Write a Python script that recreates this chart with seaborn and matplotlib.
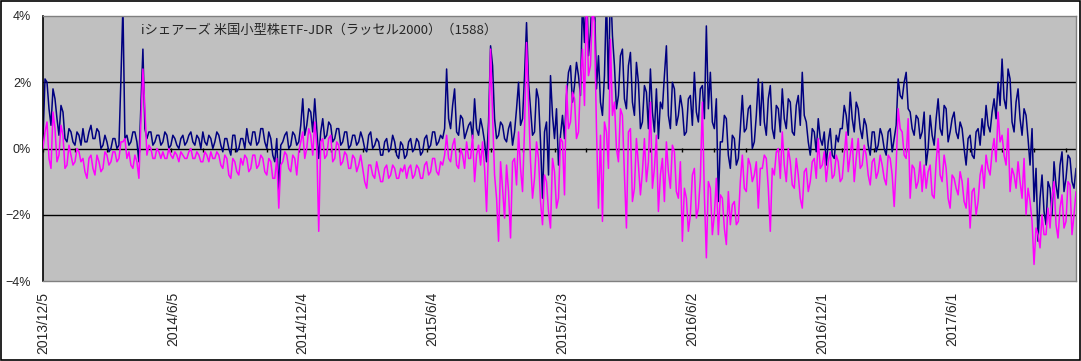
import numpy as np
import pandas as pd
import matplotlib
matplotlib.use("Agg")
import matplotlib.pyplot as plt
import matplotlib.patches as mpatches
import seaborn as sns

# premium / deviation (%)
# *_vals: trading days 0, 4, 8, ...   *_mid: trading days 2, 6, 10, ...
blue_vals = [
    0.3, 2.0, 0.7, 1.5, 0.4, 1.1, 0.2, 0.5, 0.1, 0.4,
    0.6, 0.2, 0.7, 0.3, 0.5, 0.1, 0.2, 0.0, 0.3, 0.1,
    4.3, 0.4, 0.2, 0.5, -0.4, 3.0, 0.3, 0.5, 0.2, 0.4,
    0.2, 0.4, 0.1, 0.3, 0.0, 0.4, 0.2, 0.5, 0.1, 0.3,
    0.5, 0.1, 0.3, 0.2, 0.4, -0.1, 0.3, -0.2, 0.4, 0.0,
    0.3, 0.6, 0.1, 0.5, 0.2, 0.6, 0.0, 0.3, -0.4, -1.3,
    0.2, 0.5, 0.1, 0.4, 0.2, 1.5, 0.7, 1.1, 1.5, -0.3,
    0.9, 0.4, 0.7, 0.3, 0.6, 0.2, 0.5, 0.1, 0.4, 0.2,
    0.3, -0.1, 0.5, 0.1, 0.2, -0.2, 0.3, 0.0, 0.2, -0.3,
    0.1, -0.2, 0.3, 0.0, 0.2, -0.1, 0.4, 0.1, 0.5, 0.2,
    0.3, 2.4, 0.6, 1.8, 0.4, 0.9, 0.5, 0.8, 1.5, 0.4,
    0.6, -0.4, 3.1, 0.9, 0.4, 0.7, 0.2, 0.8, 0.5, 2.0,
    0.9, 3.8, 1.2, 0.5, 1.5, -1.5, 0.8, 2.2, 0.3, -0.5,
    1.0, 1.6, 2.5, 1.9, 2.2, 4.5, 5.0, 3.5, 4.6, 2.8,
    1.0, 4.6, 5.0, 2.5, 1.6, 3.0, 1.2, 2.9, 1.0, 2.0,
    0.8, 1.7, 2.4, 0.5, 0.3, 1.2, 3.1, 0.6, 1.8, 1.0,
    1.2, 0.5, 1.6, 2.3, 0.8, 1.9, 3.7, 2.3, 0.6, -1.6,
    0.2, 0.9, -0.6, 0.3, -0.3, 1.6, 0.6, 1.3, 0.2, 2.1,
    2.0, 0.4, 1.9, 0.3, 1.2, 1.8, 0.6, 1.4, 0.4, 1.6,
    2.3, 0.8, -0.2, 0.5, 0.9, 0.1, -0.5, 0.6, -0.3, 0.2,
    0.6, 1.0, 1.7, 0.5, 1.2, 0.3, 0.7, -0.2, 0.5, 0.1,
    0.4, -0.2, 0.6, 0.3, 2.1, 1.5, 2.3, 1.1, 0.4, 0.9,
    0.5, -0.5, 1.0, 0.1, 1.5, 0.4, 1.2, 0.5, 1.1, 0.3,
    0.6, -0.5, 0.4, -0.3, 0.6, 0.9, 1.3, 0.5, 1.5, 2.0,
    2.7, 1.2, 2.1, 0.5, 1.8, 0.4, 1.0, -0.5, -1.6, -2.8,
    -0.8, -2.3, -1.2, -0.4, -1.5, -0.1, -0.9, -0.3, -1.2,
]
blue_mid = [
    2.1, 1.2, 1.8, 0.9, 1.3, 0.3, 0.6, 0.2, 0.5, 0.1,
    0.2, 0.5, 0.3, 0.6, 0.0, 0.4, -0.1, 0.3, 0.0, 2.1,
    0.3, 0.1, 0.5, 0.2, 1.3, 0.6, 0.5, 0.1, 0.4, 0.1,
    0.5, 0.0, 0.4, 0.1, 0.3, 0.1, 0.4, 0.2, 0.4, 0.0,
    0.2, 0.4, 0.0, 0.5, 0.1, 0.3, 0.0, 0.4, -0.1, 0.3,
    0.0, 0.2, 0.5, 0.1, 0.6, 0.2, 0.5, -0.2, 0.3, 0.1,
    0.4, 0.0, 0.5, 0.1, 0.7, 0.4, 1.2, 0.5, 0.6, 0.5,
    0.3, 0.8, 0.2, 0.6, 0.1, 0.5, 0.0, 0.4, 0.1, 0.5,
    0.0, 0.4, 0.0, 0.3, -0.2, 0.2, -0.1, 0.4, -0.2, 0.2,
    -0.3, 0.2, -0.1, 0.3, -0.2, 0.3, 0.0, 0.5, 0.1, 0.4,
    0.6, 0.9, 1.3, 0.5, 1.0, 0.3, 0.7, 0.3, 0.6, 0.9,
    0.2, 0.8, 2.5, 0.3, 0.8, 0.3, 0.6, 0.1, 1.2, 0.7,
    2.2, 2.0, 0.4, 1.8, 0.2, 0.5, -0.8, 1.0, 1.2, 0.4,
    0.3, 2.3, 1.4, 2.6, 1.6, 3.2, 2.8, 5.0, 1.8, 1.4,
    2.2, 1.8, 3.4, 1.2, 2.8, 1.5, 2.5, 1.4, 2.6, 0.6,
    1.9, 0.6, 1.1, 1.8, 1.4, 2.2, 1.0, 2.0, 0.7, 1.6,
    0.4, 1.5, 0.7, 1.1, 1.8, 0.9, 1.2, 0.8, 1.5, 0.2,
    1.0, -0.2, 0.4, -0.5, 0.6, 0.5, 1.2, 0.0, 1.0, 0.7,
    0.8, 1.5, 0.6, 1.3, 0.5, 0.9, 1.5, 0.5, 1.3, 0.7,
    1.0, 0.2, 0.6, -0.1, 0.3, 0.5, 0.2, -0.2, 0.4, 0.6,
    1.3, 0.4, 0.9, 1.4, 0.6, 0.9, 0.1, 0.5, -0.1, 0.6,
    0.0, 0.5, -0.1, 0.7, 1.6, 2.0, 1.2, 0.6, 1.0, 0.3,
    1.1, 0.0, 0.4, 0.9, 0.6, 1.3, 0.2, 0.9, 0.5, 0.8,
    0.0, 0.3, -0.2, 0.5, 0.1, 0.4, 0.7, 1.1, 0.9, 1.3,
    1.5, 2.4, 0.8, 1.4, 0.9, 1.2, 0.3, 0.6, -0.6, -1.5,
    -1.9, -1.0, -2.0, -1.1, -0.5, -1.3, -0.2, -1.0, -0.6,
]

magenta_vals = [
    0.0, 0.8, -0.6, 0.6, -0.2, 0.4, -0.5, -0.2, -0.4, -0.1,
    -0.3, -0.9, -0.2, -0.8, -0.4, -0.6, -0.2, -0.4, -0.1, -0.3,
    0.2, -0.3, -0.5, -0.2, -0.9, 2.4, -0.2, 0.0, -0.3, -0.1,
    -0.1, -0.3, -0.2, -0.1, -0.4, -0.2, -0.3, 0.0, -0.3, -0.2,
    -0.4, -0.2, -0.1, -0.3, -0.2, -0.6, -0.3, -0.9, -0.4, -0.8,
    -0.5, -0.3, -0.6, -0.2, -0.5, -0.3, -0.8, -0.4, -0.9, -1.8,
    -0.4, -0.2, -0.7, -0.3, -0.1, 0.5, 0.0, 0.4, 0.8, -2.5,
    0.3, -0.2, 0.4, -0.3, 0.1, -0.4, -0.2, -0.6, -0.3, -0.5,
    -0.6, -1.2, -0.5, -0.9, -0.7, -1.0, -0.5, -0.8, -0.6, -0.9,
    -0.7, -0.9, -0.5, -0.8, -0.6, -0.9, -0.4, -0.7, -0.3, -0.8,
    -0.5, 0.4, -0.4, 0.3, -0.6, -0.2, 0.2, -0.3, -1.0, 0.1,
    0.2, -1.9, 3.0, -0.8, -2.8, -1.2, -0.5, -2.7, -0.3, 0.5,
    -1.3, 3.2, -0.4, -0.9, -0.3, -2.3, -1.0, -2.4, -0.7, -1.5,
    0.2, 1.9, 0.8, 1.5, 0.5, 3.0, 4.5, 2.5, 3.8, -1.8,
    -2.2, 0.5, 3.3, 1.4, -0.4, 1.0, -2.4, 0.6, -1.2, -0.5,
    -0.7, -1.0, 1.4, -0.6, -1.9, -0.3, 0.2, -1.2, -0.1, -1.5,
    -2.8, -1.5, -2.0, -0.6, -1.8, 1.4, -3.3, -1.2, -2.0, -2.6,
    -1.5, -2.9, -2.3, -1.6, -2.2, -0.2, -1.3, -0.5, -0.8, -1.8,
    -0.6, -0.3, -2.5, -0.8, 0.0, 0.5, -1.0, -0.4, -1.2, -0.8,
    -1.8, -0.6, -1.0, -0.3, 0.3, -0.5, -1.0, -0.1, -0.8, -0.4,
    -0.9, 0.5, -0.2, -1.0, 0.3, -0.5, -0.2, -1.1, -0.3, -0.7,
    -0.5, -1.1, -0.3, -1.75, 1.2, 0.5, -0.3, -1.5, -0.6, -1.0,
    -1.3, -1.2, -0.5, -1.5, 0.3, -1.0, -0.6, -1.8, -0.9, -1.4,
    -1.0, -1.8, -2.4, -1.2, -1.6, -0.5, -0.2, -0.8, 0.3, 1.1,
    0.4, -0.5, -1.3, -0.8, -0.4, -1.5, -2.0, -1.6, -3.5, -2.6,
    -2.0, -2.6, -2.4, -1.0, -2.7, -1.4, -2.2, -1.1, -2.0,
]
magenta_mid = [
    0.5, -0.3, 1.1, -0.4, 0.7, -0.6, 0.1, -0.5, 0.0, -0.4,
    -0.7, -0.3, -0.6, -0.2, -0.7, -0.1, -0.5, -0.1, -0.4, 0.2,
    0.3, -0.1, -0.6, -0.4, 0.8, 1.2, 0.1, -0.3, 0.0, -0.3,
    -0.3, 0.0, -0.3, -0.2, -0.1, -0.3, -0.1, -0.3, -0.1, -0.4,
    -0.1, -0.4, -0.3, -0.1, -0.5, -0.2, -0.8, -0.3, -0.7, -0.3,
    -0.2, -0.7, -0.2, -0.6, -0.2, -0.7, -0.3, -0.9, -0.3, -0.5,
    -0.1, -0.6, -0.2, -0.8, 0.2, -0.3, 0.6, -0.2, 0.1, 0.2,
    -0.3, 0.3, -0.4, 0.2, -0.5, -0.1, -0.6, -0.2, -0.7, -0.2,
    -1.0, -0.5, -0.8, -0.4, -1.0, -0.6, -0.9, -0.5, -0.9, -0.6,
    -0.5, -0.6, -0.9, -0.5, -0.9, -0.5, -0.8, -0.3, -0.7, -0.4,
    -0.2, -0.3, 0.1, -0.5, 0.0, -0.6, -0.3, 0.4, -0.2, -0.5,
    -0.6, 0.1, 1.0, -1.5, -0.4, -2.1, -1.3, -0.4, -1.1, -0.6,
    0.6, 1.4, -1.5, 0.2, -1.6, -0.8, -1.9, -0.3, -1.8, 0.3,
    -1.4, 0.6, 1.7, 0.3, 2.0, 1.3, 2.2, 4.2, 0.6, 0.4,
    0.8, -0.6, 1.0, 0.0, 1.2, -0.8, 0.5, -1.6, 0.3, -1.4,
    0.3, -0.4, -1.2, 0.4, -0.8, -1.6, -0.7, 0.1, -1.3, -0.4,
    -1.2, -2.5, -0.8, -2.1, -0.9, -1.4, -1.0, -2.6, -0.9, -1.4,
    -2.4, -1.3, -1.7, -2.3, -1.0, -1.2, -0.3, -1.0, -0.4, -0.6,
    -0.2, -1.2, -0.6, -0.1, -0.9, -0.5, 0.0, -1.1, -0.3, -1.5,
    -0.7, -1.3, -0.4, -0.9, -0.6, -0.1, -0.4, -0.9, -0.2, -1.0,
    -0.2, -0.7, 0.3, -0.3, -0.6, 0.1, -0.8, -0.4, -0.9, -0.2,
    -0.9, -0.2, -0.8, -0.5, 0.6, -0.2, 0.9, -0.5, -1.2, -0.4,
    -0.5, -0.7, -1.4, -0.4, -0.8, -0.2, -1.5, -0.8, -1.2, -0.7,
    -1.6, -0.9, -1.3, -2.0, -0.8, -1.2, -0.6, -0.1, -0.4, 0.2,
    -0.2, 0.6, -0.6, -1.2, -1.0, -0.3, -1.2, -2.2, -2.4, -3.0,
    -2.6, -1.8, -1.5, -2.3, -1.8, -2.4, -1.0, -2.6, -1.3,
]

tick_labels = ["2013/12/5", "2014/6/5", "2014/12/4", "2015/6/4",
               "2015/12/3", "2016/6/2", "2016/12/1", "2017/6/1"]
y_ticks = [-4, -2, 0, 2, 4]
y_labels = ["\u22124%", "\u22122%", "0%", "2%", "4%"]
title = "iシェアーズ 米国小型株ETF-JDR（ラッセル2000）（1588）"

step = 4
df = pd.concat([
    pd.DataFrame({"pos": np.arange(len(blue_vals)) * step,
                  "blue": blue_vals, "magenta": magenta_vals}),
    pd.DataFrame({"pos": np.arange(len(blue_mid)) * step + step // 2,
                  "blue": blue_mid, "magenta": magenta_mid}),
]).sort_values("pos").reset_index(drop=True)

sns.set_theme(style="white")
plt.rcParams["font.family"] = ["Liberation Sans", "DejaVu Sans"]

fig = plt.figure(figsize=(10.81, 3.61), dpi=100)
ax = fig.add_axes([43 / 1081, 80 / 361, 1033 / 1081, 265 / 361])
ax.set_facecolor("#C0C0C0")

for v in [-2, 0, 2]:
    ax.axhline(v, color="black", lw=1.0, zorder=1)

sns.lineplot(data=df, x="pos", y="blue", color="#000080", lw=1.1,
             estimator=None, ax=ax, zorder=2)
sns.lineplot(data=df, x="pos", y="magenta", color="#FF00FF", lw=1.1,
             estimator=None, ax=ax, zorder=3)

ax.set_xlim(0, 1034)
ax.set_ylim(-4, 4)
ax.set_xlabel("")
ax.set_ylabel("")

ax.set_yticks(y_ticks)
ax.set_yticklabels(y_labels, fontsize=9)
ax.tick_params(axis="y", direction="in", length=5, width=1, color="black", pad=8.5)

ax.set_xticks([130 * k for k in range(len(tick_labels))])
ax.set_xticklabels(tick_labels, rotation=90, fontsize=10, ha="center", va="top")
ax.tick_params(axis="x", length=0, pad=8)

for s in ["top", "right", "bottom"]:
    ax.spines[s].set_color("#808080")
    ax.spines[s].set_linewidth(1.0)
ax.spines["left"].set_color("black")
ax.spines["left"].set_linewidth(1.2)

# small category tick marks on the zero line
sec = ax.secondary_xaxis(0.5)
sec.set_xticks(np.arange(0, 1035, 32))
sec.set_xticklabels([])
sec.tick_params(axis="x", direction="in", length=3, width=1, color="black")
for sp in sec.spines.values():
    sp.set_visible(False)

ax.text(98, 3.58, title, fontsize=9.5, va="center", ha="left",
        family=["Noto Sans CJK JP", "DejaVu Sans"], zorder=5)

fig.patches.append(mpatches.Rectangle((0.5 / 1081, 1.0 / 361), 1079 / 1081, 359 / 361,
                                      transform=fig.transFigure, fill=False,
                                      edgecolor="black", lw=1.2))

fig.savefig("out.png", dpi=100, facecolor="white")
